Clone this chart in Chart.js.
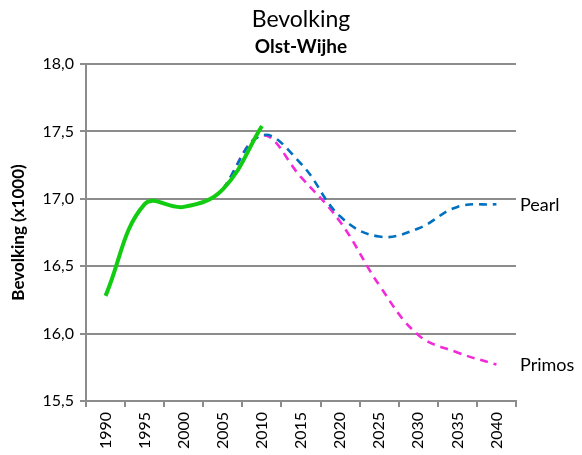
<!DOCTYPE html>
<html>
<head>
<meta charset="utf-8">
<script src="https://cdn.jsdelivr.net/npm/chart.js@4/dist/chart.umd.min.js"></script>
<style>
  html, body { margin: 0; padding: 0; background: #ffffff; }
  #wrap { width: 582px; height: 455px; }
</style>
</head>
<body>
<div id="wrap"><canvas id="c" width="582" height="455"></canvas></div>
<script>
// Population of Olst-Wijhe (x1000): registered figures and two forecasts
const years = ['1990', '1995', '2000', '2005', '2010', '2015', '2020', '2025', '2030', '2035', '2040'];
const observed = [16.28, 16.96, 16.94, 17.07, 17.54, null, null, null, null, null, null];
const pearl = [null, null, null, 17.07, 17.47, 17.26, 16.87, 16.72, 16.78, 16.94, 16.96];
const primos = [null, null, null, 17.07, 17.47, 17.16, 16.83, 16.36, 15.99, 15.86, 15.77];
const yTicks = [15.5, 16.0, 16.5, 17.0, 17.5, 18.0];
const seriesNames = ['Waarneming', 'Pearl', 'Primos'];

const FONT = 'Lato, "Open Sans", sans-serif';
const GRID = '#8c8c8c';

// Writes the forecast name just right of the last point of each dashed line
const endLabels = {
  id: 'endLabels',
  afterDatasetsDraw(chart) {
    const { ctx, chartArea, scales } = chart;
    ctx.save();
    ctx.font = '18px ' + FONT;
    ctx.fillStyle = '#000000';
    ctx.textAlign = 'left';
    ctx.textBaseline = 'middle';
    [1, 2].forEach(i => {
      const data = chart.data.datasets[i].data;
      let last = data.length - 1;
      while (last >= 0 && data[last] == null) last--;
      const y = scales.y.getPixelForValue(data[last]);
      ctx.fillText(chart.data.datasets[i].label, chartArea.right + 4, y + 1);
    });
    ctx.restore();
  }
};

new Chart(document.getElementById('c'), {
  type: 'line',
  data: {
    labels: years,
    datasets: [
      {
        label: seriesNames[0],
        data: observed,
        borderColor: '#11cc11',
        borderWidth: 4,
        pointRadius: 0,
        tension: 0.4,
        fill: false
      },
      {
        label: seriesNames[1],
        data: pearl,
        borderColor: '#0070c0',
        borderWidth: 2.6,
        borderDash: [8, 6],
        pointRadius: 0,
        tension: 0.4,
        fill: false
      },
      {
        label: seriesNames[2],
        data: primos,
        borderColor: '#f22ad8',
        borderWidth: 2.6,
        borderDash: [8, 6],
        pointRadius: 0,
        tension: 0.4,
        fill: false
      }
    ]
  },
  options: {
    responsive: false,
    animation: false,
    devicePixelRatio: 1,
    layout: { padding: { top: 0, left: 0, right: 66, bottom: 0 } },
    plugins: {
      legend: { display: false },
      tooltip: { enabled: false },
      title: {
        display: true,
        fullSize: false,
        text: 'Bevolking',
        color: '#000000',
        font: { family: FONT, size: 23, weight: 'normal', lineHeight: 1.2 },
        padding: { top: 6, bottom: 0 }
      },
      subtitle: {
        display: true,
        fullSize: false,
        text: 'Olst-Wijhe',
        color: '#000000',
        font: { family: FONT, size: 19, weight: 'bold', lineHeight: 1.2 },
        padding: { top: 1.5, bottom: 6.1 }
      }
    },
    scales: {
      x: {
        type: 'category',
        offset: true,
        grid: {
          display: true,
          drawOnChartArea: false,
          drawTicks: true,
          tickLength: 6,
          color: GRID,
          lineWidth: 2,
          offset: true
        },
        border: { display: true, color: GRID, width: 2 },
        ticks: {
          autoSkip: false,
          maxRotation: 90,
          minRotation: 90,
          padding: 5,
          color: '#000000',
          font: { family: FONT, size: 16 }
        },
        afterFit(scale) { scale.height = 54; }
      },
      y: {
        min: yTicks[0],
        max: yTicks[yTicks.length - 1],
        afterBuildTicks(scale) { scale.ticks = yTicks.map(v => ({ value: v })); },
        grid: { color: GRID, lineWidth: 2, tickLength: 6 },
        border: { display: true, color: GRID, width: 2 },
        ticks: {
          padding: 6,
          color: '#000000',
          font: { family: FONT, size: 16 },
          callback: v => Number(v).toFixed(1).replace('.', ',')
        },
        title: {
          display: true,
          text: 'Bevolking (x1000)',
          color: '#000000',
          font: { family: FONT, size: 17, weight: 'bold' },
          padding: { top: 8, bottom: 0 }
        },
        afterFit(scale) { scale.width = 86; }
      }
    }
  },
  plugins: [endLabels]
});
</script>
</body>
</html>
